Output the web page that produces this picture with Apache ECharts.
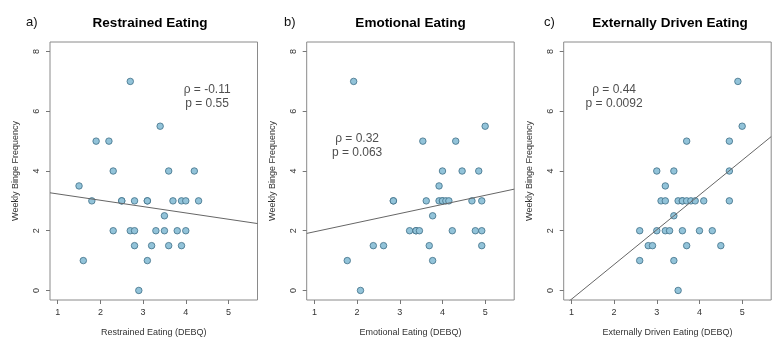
<!DOCTYPE html>
<html>
<head>
<meta charset="utf-8">
<script src="https://cdn.jsdelivr.net/npm/echarts@6/dist/echarts.min.js"></script>
<style>
  html, body { margin: 0; padding: 0; background: #fff; }
  #chart { width: 783px; height: 350px; }
</style>
</head>
<body>
<div id="chart"></div>
<script>
// values (DEBQ subscale score vs weekly binge frequency)
const restrainedX = [1.5, 1.6, 1.8, 1.9, 2.2, 2.3, 2.3, 2.5, 2.5, 2.7, 2.7, 2.8, 2.8, 2.8, 2.9, 3.1, 3.1,
  3.1, 3.2, 3.3, 3.4, 3.5, 3.5, 3.6, 3.6, 3.7, 3.8, 3.9, 3.9, 4.0, 4.0, 4.2, 4.3];
const restrainedY = [3.5, 1, 3, 5, 5, 4, 2, 3, 3, 7, 2, 2, 3, 1.5, 0, 3, 3,
  1, 1.5, 2, 5.5, 2.5, 2, 4, 1.5, 3, 2, 3, 1.5, 3, 2, 4, 3];

const emotionalX = [1.77, 1.92, 2.08, 2.38, 2.62, 2.85, 2.85, 3.23, 3.38, 3.38, 3.46, 3.54, 3.62, 3.69, 3.77, 3.77, 3.92,
  3.92, 4.00, 4.00, 4.00, 4.08, 4.15, 4.23, 4.31, 4.46, 4.69, 4.77, 4.85, 4.92, 4.92, 4.92, 5.00];
const emotionalY = [1, 7, 0, 1.5, 1.5, 3, 3, 2, 2, 2, 2, 5, 3, 1.5, 2.5, 1, 3.5,
  3, 4, 3, 3, 3, 3, 2, 5, 4, 3, 2, 4, 3, 2, 1.5, 5.5];

const externalX = [2.6, 2.6, 2.8, 2.9, 3.0, 3.0, 3.1, 3.2, 3.2, 3.2, 3.3, 3.4, 3.4, 3.4, 3.5, 3.5, 3.6,
  3.6, 3.6, 3.7, 3.7, 3.7, 3.8, 3.9, 4.0, 4.1, 4.3, 4.5, 4.7, 4.7, 4.7, 4.9, 5.0];
const externalY = [2, 1, 1.5, 1.5, 4, 2, 3, 3.5, 3, 2, 2, 4, 2.5, 1, 3, 0, 3,
  3, 2, 5, 3, 1.5, 3, 3, 2, 3, 2, 1.5, 5, 4, 3, 7, 5.5];

const panelTitles = ['Restrained Eating', 'Emotional Eating', 'Externally Driven Eating'];
const panelTags = ['a)', 'b)', 'c)'];
const xNames = ['Restrained Eating (DEBQ)', 'Emotional Eating (DEBQ)', 'Externally Driven Eating (DEBQ)'];
const statTexts = ['ρ = -0.11\np = 0.55', 'ρ = 0.32\np = 0.063', 'ρ = 0.44\np = 0.0092'];
const statPos = [[4.5, 6.5], [2, 4.85], [2, 6.5]];
// fitted line: y = intercept + slope * x
const lineIntercept = [3.444, 1.66, -1.46];
const lineSlope = [-0.212, 0.305, 1.164];

const xTicks = [1, 2, 3, 4, 5];
const yTicks = [0, 2, 4, 6, 8];
const xRange = [0.82, 5.68];
const yRange = [-0.32, 8.32];

const panelX = [restrainedX, emotionalX, externalX];
const panelY = [restrainedY, emotionalY, externalY];

const gridLeft = [50, 306.7, 563.7];
const titleCenter = [145, 405.5, 665];
const tagLeft = [21, 279, 539];

const font = 'Liberation Sans, Arial, Helvetica, sans-serif';

var grids = [], xAxes = [], yAxes = [], series = [], titles = [];

for (let i = 0; i < 3; i++) {
  grids.push({
    left: gridLeft[i], top: 42, width: 207.5, height: 258,
    show: true, borderColor: '#8a8a8a', borderWidth: 1
  });
  xAxes.push({
    gridIndex: i, type: 'value', min: xRange[0], max: xRange[1],
    splitLine: { show: false },
    axisLine: { show: false, onZero: false },
    axisTick: { show: true, inside: false, length: 4, lineStyle: { color: '#777' }, customValues: xTicks },
    axisLabel: { customValues: xTicks, fontSize: 9, color: '#333', margin: 8, fontFamily: font },
    name: xNames[i], nameLocation: 'middle', nameGap: 28,
    nameTextStyle: { fontSize: 9, color: '#333', fontFamily: font }
  });
  yAxes.push({
    gridIndex: i, type: 'value', min: yRange[0], max: yRange[1],
    splitLine: { show: false },
    axisLine: { show: false, onZero: false },
    axisTick: { show: true, inside: false, length: 4, lineStyle: { color: '#777' }, customValues: yTicks },
    axisLabel: { customValues: yTicks, fontSize: 9, color: '#333', rotate: 90, margin: 9, fontFamily: font },
    name: 'Weekly Binge Frequency', nameLocation: 'middle', nameGap: 30, nameRotate: 90,
    nameTextStyle: { fontSize: 9, color: '#333', fontFamily: font }
  });

  const pts = panelX[i].map((x, k) => [x, panelY[i][k]]);
  series.push({
    type: 'scatter', xAxisIndex: i, yAxisIndex: i,
    data: pts, symbolSize: 6.5,
    itemStyle: { color: '#92c3d9', borderColor: '#3f6f86', borderWidth: 0.8, opacity: 1 }
  });

  series.push({
    type: 'line', xAxisIndex: i, yAxisIndex: i,
    data: xRange.map(x => [x, lineIntercept[i] + lineSlope[i] * x]),
    symbol: 'none', clip: true,
    lineStyle: { color: '#666', width: 1 }
  });

  series.push({
    type: 'scatter', xAxisIndex: i, yAxisIndex: i,
    data: [statPos[i]], symbolSize: 1,
    itemStyle: { color: 'rgba(0,0,0,0)' },
    label: {
      show: true, position: 'inside', formatter: statTexts[i],
      fontSize: 12, lineHeight: 14, color: '#222', fontFamily: font, align: 'center'
    },
    silent: true
  });

  titles.push({
    text: panelTitles[i], left: titleCenter[i], top: 11, textAlign: 'center',
    textStyle: { fontSize: 13.5, fontWeight: 'bold', color: '#000', fontFamily: font }
  });
  titles.push({
    text: panelTags[i], left: tagLeft[i], top: 11,
    textStyle: { fontSize: 13, fontWeight: 'normal', color: '#111', fontFamily: font }
  });
}

var option = {
  animation: false,
  backgroundColor: '#fff',
  title: titles,
  grid: grids,
  xAxis: xAxes,
  yAxis: yAxes,
  series: series
};

const chart = echarts.init(document.getElementById('chart'));
chart.setOption(option);
</script>
</body>
</html>
